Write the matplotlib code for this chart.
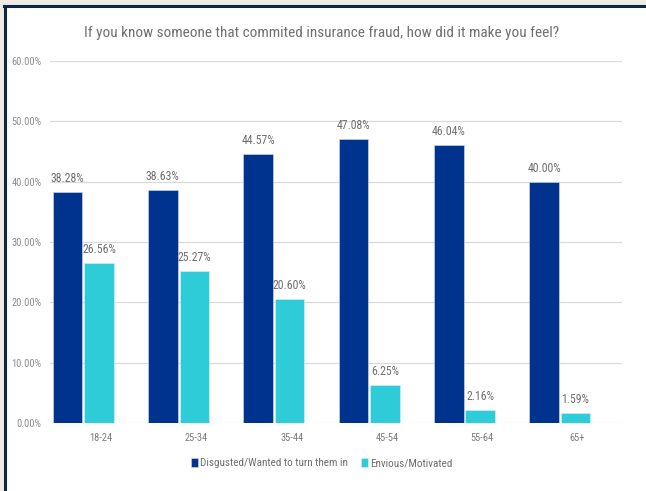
import numpy as np
import matplotlib
matplotlib.use('Agg')
import matplotlib.pyplot as plt
from matplotlib.patches import Rectangle
from matplotlib.lines import Line2D

plt.rcParams['font.family'] = ['Roboto Condensed', 'DejaVu Sans Condensed', 'Roboto', 'DejaVu Sans']

# data
age_groups = ['18-24', '25-34', '35-44', '45-54', '55-64', '65+']
disgusted = [38.28, 38.63, 44.57, 47.08, 46.04, 40.00]
envious = [26.56, 25.27, 20.60, 6.25, 2.16, 1.59]
series_names = ['Disgusted/Wanted to turn them in', 'Envious/Motivated']
yticks = [0, 10, 20, 30, 40, 50, 60]

navy = '#00338D'
cyan = '#2ECBD8'

W, H = 646, 491
fig = plt.figure(figsize=[W / 100, H / 100], dpi=100)
fig.patch.set_facecolor('#EEEBE2')

# white card with navy top/left border
fig.add_artist(Rectangle((5 / W, 0), 1, 1 - 5 / H, transform=fig.transFigure,
                         facecolor='white', edgecolor='none', zorder=0))
fig.add_artist(Line2D([5 / W, 5 / W], [0, 1 - 5.5 / H], transform=fig.transFigure,
                      color='#0E2545', lw=2.2, zorder=1))
fig.add_artist(Line2D([4 / W, 1], [1 - 5.5 / H, 1 - 5.5 / H], transform=fig.transFigure,
                      color='#0E2545', lw=2.2, zorder=1))

ax = fig.add_axes([50 / W, (H - 423) / H, 572 / W, 362 / H])
ax.set_facecolor('none')

x = np.arange(len(age_groups))
bw = 0.31
b1 = ax.bar(x - 0.165, disgusted, bw, color=navy, edgecolor='#d8e0ef', linewidth=0.4,
            label=series_names[0], zorder=3)
b2 = ax.bar(x + 0.165, envious, bw, color=cyan, edgecolor='#d8f4f7', linewidth=0.4,
            label=series_names[1], zorder=3)

for bars, vals in [(b1, disgusted), (b2, envious)]:
    for r, v in zip(bars, vals):
        ax.annotate(f'{v:.2f}%', (r.get_x() + r.get_width() / 2, v),
                    xytext=(0, 5), textcoords='offset points', ha='center', va='bottom',
                    fontsize=8.5, color='#6e6e6e')

ax.set_xlim(-0.349, 5.653)
ax.set_ylim(0, 60)
ax.set_yticks(yticks)
ax.set_yticklabels([f'{t:.2f}%' for t in yticks])
ax.set_xticks(x + 0.186)
ax.set_xticklabels(age_groups)
ax.tick_params(axis='both', length=0, labelsize=7.5)
ax.tick_params(axis='x', pad=7, colors='#7a7a7a')
ax.tick_params(axis='y', pad=6, colors='#8c8c8c')
ax.grid(axis='y', color='#DADADA', lw=0.9, zorder=0)
for s in ax.spines.values():
    s.set_visible(False)

fig.text(322 / W, 1 - 33 / H, 'If you know someone that commited insurance fraud, how did it make you feel?',
         ha='center', va='center', fontsize=11, color='#707070')

fig.legend(handles=[b1, b2], labels=series_names, loc='center', bbox_to_anchor=(322 / W, 1 - 463 / H),
           ncol=2, frameon=False, fontsize=8, labelcolor='#6e6e6e', handlelength=0.6,
           handleheight=0.9, handletextpad=0.2, columnspacing=1.2)

fig.savefig('out.png', dpi=100)
